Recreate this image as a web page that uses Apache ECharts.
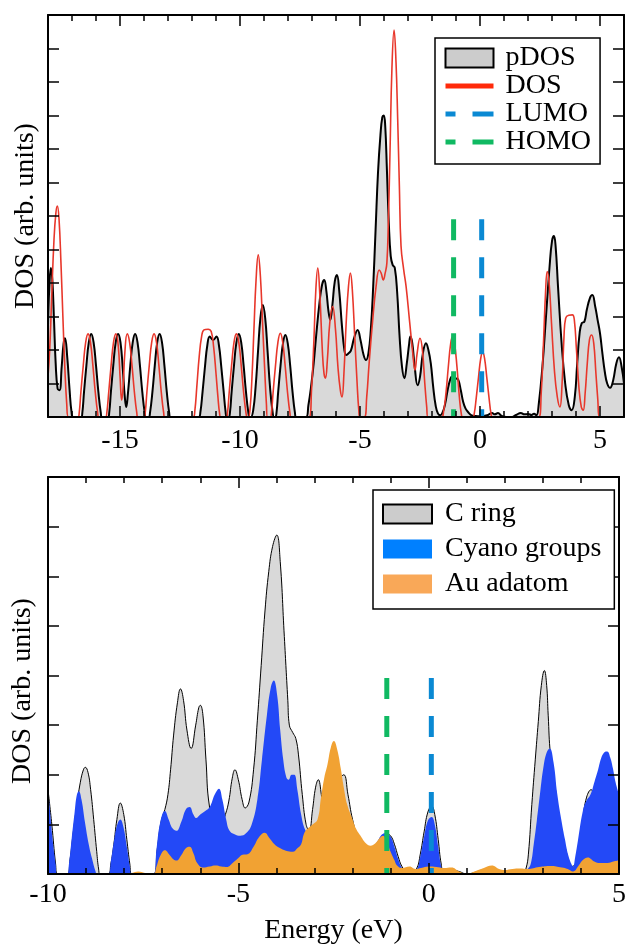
<!DOCTYPE html>
<html><head><meta charset="utf-8">
<script src="https://cdn.jsdelivr.net/npm/echarts@6/dist/echarts.min.js"></script>
<style>html,body{margin:0;padding:0;background:#fff}#c{width:629px;height:946px}</style>
</head><body><div id="c"></div>
<script>
// ---------- DATA ----------
const topMajorTicks = [-15, -10, -5, 0, 5];
const homoEnergy = -1.1;
const lumoEnergy = 0.07;
const markerTopHeight = 5.9;
const markerBottomHeight = 3.95;

// Top panel: pDOS (grey filled, black outline)
const pdosTop = [
[-18.0,2.7],[-17.95,3.8],[-17.88,4.45],[-17.82,4.1],[-17.75,2.9],[-17.68,1.6],[-17.6,0.85],[-17.52,0.8],[-17.43,1.5],[-17.35,2.2],[-17.29,2.35],[-17.2,1.8],[-17.1,0.8],[-17.02,0.15],[-16.95,0],
[-16.62,0],[-16.57,0.12],[-16.5,0.74],[-16.4,1.54],[-16.3,2.23],[-16.2,2.48],[-16.1,2.23],[-16.0,1.54],[-15.9,0.74],[-15.8,0.12],[-15.75,0],
[-15.5,0],[-15.45,0.12],[-15.38,0.74],[-15.28,1.54],[-15.18,2.23],[-15.08,2.48],[-14.98,2.23],[-14.88,1.4],[-14.8,0.6],[-14.74,0.3],[-14.67,0.7],[-14.57,1.54],[-14.47,2.23],[-14.37,2.48],[-14.27,2.23],[-14.17,1.54],[-14.07,0.74],[-13.97,0.12],[-13.92,0],
[-13.8,0],[-13.75,0.12],[-13.65,0.74],[-13.55,1.54],[-13.45,2.23],[-13.35,2.48],[-13.25,2.23],[-13.15,1.54],[-13.05,0.74],[-12.95,0.12],[-12.9,0],
[-11.72,0],[-11.65,0.15],[-11.56,0.75],[-11.46,1.5],[-11.36,2.15],[-11.26,2.4],[-11.12,2.3],[-10.98,2.4],[-10.88,2.15],[-10.78,1.5],[-10.68,0.75],[-10.6,0.15],[-10.55,0],
[-10.47,0],[-10.42,0.12],[-10.35,0.74],[-10.25,1.54],[-10.15,2.23],[-10.05,2.48],[-9.95,2.23],[-9.85,1.54],[-9.75,0.74],[-9.65,0.12],[-9.6,0],
[-9.55,0],[-9.45,0.2],[-9.35,0.9],[-9.25,1.95],[-9.15,2.95],[-9.05,3.34],[-8.95,2.95],[-8.85,1.95],[-8.75,0.9],[-8.65,0.2],[-8.58,0],
[-8.53,0],[-8.48,0.12],[-8.41,0.74],[-8.31,1.54],[-8.21,2.2],[-8.11,2.45],[-8.01,2.2],[-7.91,1.54],[-7.81,0.74],[-7.71,0.12],[-7.66,0],
[-7.25,0],[-7.15,0.35],[-7.04,0.9],[-6.93,1.6],[-6.83,2.4],[-6.69,3.4],[-6.58,3.95],[-6.49,4.09],[-6.4,3.75],[-6.32,3.2],[-6.24,2.9],[-6.15,3.35],[-6.05,4.05],[-5.96,4.24],[-5.87,3.8],[-5.75,2.7],[-5.65,2.0],[-5.58,1.85],[-5.48,1.9],[-5.38,1.98],[-5.25,2.35],[-5.1,2.6],[-4.98,2.3],[-4.85,1.85],[-4.75,1.7],[-4.65,1.9],[-4.55,2.6],[-4.45,3.9],[-4.35,5.6],[-4.25,7.3],[-4.15,8.4],[-4.07,8.95],[-4.01,9.0],[-3.95,8.7],[-3.88,7.4],[-3.8,5.8],[-3.72,4.8],[-3.64,4.54],[-3.55,4.45],[-3.45,3.7],[-3.35,2.4],[-3.25,1.5],[-3.15,1.16],[-3.05,1.6],[-2.95,2.2],[-2.9,2.4],[-2.82,2.2],[-2.72,1.5],[-2.6,0.95],[-2.5,1.2],[-2.38,1.9],[-2.25,2.2],[-2.15,2.0],[-2.05,1.6],[-1.95,0.9],[-1.85,0.35],[-1.75,0.1],[-1.65,0.05],[-1.55,0.15],[-1.45,0.4],[-1.35,0.8],[-1.25,1.1],[-1.18,1.2],[-1.08,1.1],[-0.98,1.15],[-0.9,1.1],[-0.8,0.8],[-0.7,0.45],[-0.6,0.25],[-0.5,0.15],[-0.35,0.05],[-0.2,0.03],[0.0,0.02],[0.3,0.05],[0.5,0.12],[0.62,0.08],[0.75,0.12],[0.9,0.03],[1.1,0],[1.3,0],[1.5,0.06],[1.7,0.12],[1.85,0.08],[2.0,0.09],[2.15,0.06],[2.25,0.1],[2.35,0.05],[2.45,0.4],[2.6,1.5],[2.75,3.0],[2.9,4.5],[3.0,5.25],[3.08,5.4],[3.15,5.1],[3.25,3.9],[3.4,2.2],[3.55,1.0],[3.7,0.35],[3.82,0.2],[3.95,0.6],[4.05,1.6],[4.15,2.5],[4.24,2.8],[4.35,2.85],[4.45,3.2],[4.58,3.55],[4.68,3.64],[4.8,3.3],[4.9,2.9],[5.0,2.5],[5.1,1.9],[5.2,1.35],[5.3,1.0],[5.42,0.87],[5.55,1.1],[5.68,1.6],[5.79,1.78],[5.9,1.5],[6.0,1.0]
];

// Top panel: total DOS (red line)
const dosTop = [
[-18.0,1.2],[-17.93,2.0],[-17.85,3.5],[-17.75,5.3],[-17.67,6.1],[-17.61,6.3],[-17.54,5.9],[-17.46,4.6],[-17.38,3.0],[-17.3,1.5],[-17.22,0.4],[-17.15,0],
[-16.75,0],[-16.7,0.12],[-16.63,0.74],[-16.53,1.54],[-16.43,2.23],[-16.33,2.48],[-16.23,2.23],[-16.13,1.54],[-16.03,0.74],[-15.93,0.12],[-15.88,0],
[-15.6,0],[-15.55,0.12],[-15.47,0.74],[-15.37,1.54],[-15.27,2.23],[-15.17,2.48],[-15.07,2.1],[-14.99,1.1],[-14.93,0.5],[-14.87,0.9],[-14.8,1.9],[-14.7,2.48],[-14.6,2.23],[-14.5,1.54],[-14.4,0.74],[-14.3,0.12],[-14.25,0],
[-14.0,0],[-13.95,0.12],[-13.88,0.74],[-13.78,1.54],[-13.68,2.23],[-13.58,2.48],[-13.48,2.23],[-13.38,1.54],[-13.28,0.74],[-13.18,0.12],[-13.13,0],
[-11.95,0],[-11.88,0.2],[-11.8,0.9],[-11.7,1.8],[-11.6,2.4],[-11.5,2.6],[-11.33,2.62],[-11.2,2.55],[-11.1,2.1],[-11.0,1.3],[-10.92,0.6],[-10.85,0.1],[-10.8,0],
[-10.57,0],[-10.52,0.12],[-10.45,0.74],[-10.35,1.54],[-10.25,2.23],[-10.15,2.48],[-10.05,2.23],[-9.95,1.54],[-9.85,0.74],[-9.75,0.12],[-9.7,0],
[-9.65,0],[-9.58,0.25],[-9.5,1.2],[-9.42,2.6],[-9.33,4.1],[-9.24,4.84],[-9.15,4.2],[-9.06,2.8],[-8.97,1.4],[-8.9,0.4],[-8.85,0],
[-8.74,0],[-8.69,0.12],[-8.62,0.74],[-8.52,1.54],[-8.42,2.23],[-8.32,2.5],[-8.22,2.23],[-8.12,1.54],[-8.02,0.74],[-7.92,0.12],[-7.87,0],
[-7.12,0],[-7.02,0.8],[-6.92,2.3],[-6.84,3.8],[-6.76,4.45],[-6.67,3.6],[-6.57,2.0],[-6.5,1.3],[-6.44,1.16],[-6.36,1.7],[-6.26,2.8],[-6.14,3.3],[-6.02,2.6],[-5.92,1.5],[-5.82,0.8],[-5.75,0.6],[-5.67,1.3],[-5.57,2.9],[-5.48,3.9],[-5.4,4.3],[-5.32,3.8],[-5.22,2.4],[-5.12,1.0],[-5.05,0.2],[-5.0,0],
[-4.82,0],[-4.72,0.6],[-4.62,1.6],[-4.47,2.9],[-4.33,3.9],[-4.2,4.39],[-4.12,4.3],[-4.03,4.09],[-3.95,4.3],[-3.88,4.6],[-3.82,5.8],[-3.75,7.9],[-3.67,10.4],[-3.58,11.55],[-3.5,10.6],[-3.43,8.9],[-3.36,6.9],[-3.29,5.1],[-3.18,4.4],[-3.08,3.9],[-2.94,2.9],[-2.8,1.9],[-2.71,1.4],[-2.62,1.9],[-2.5,2.35],[-2.4,2.0],[-2.3,1.0],[-2.22,0.3],[-2.17,0],
[-1.6,0],[-1.52,0.15],[-1.42,0.7],[-1.32,1.5],[-1.22,2.2],[-1.14,2.4],[-1.06,2.2],[-0.96,1.5],[-0.86,0.6],[-0.78,0.1],[-0.72,0],
[-0.3,0],[-0.24,0.1],[-0.16,0.55],[-0.06,1.2],[0.03,1.75],[0.11,1.95],[0.19,1.75],[0.28,1.2],[0.38,0.55],[0.46,0.1],[0.52,0],
[2.45,0],[2.55,0.7],[2.65,2.3],[2.73,3.7],[2.8,4.34],[2.88,4.0],[2.98,2.8],[3.1,1.4],[3.22,0.6],[3.33,0.3],[3.42,1.0],[3.5,2.4],[3.57,2.95],[3.7,3.04],[3.85,3.05],[3.93,2.9],[4.02,2.0],[4.12,0.9],[4.22,0.3],[4.3,0.2],[4.38,0.7],[4.47,1.6],[4.56,2.3],[4.65,2.45],[4.74,2.2],[4.83,1.3],[4.91,0.5],[4.97,0],[6.0,0]
];

// Bottom panel: C ring (grey, black outline)
const cRing = [
[-10.0,1.7],[-9.9,1.0],[-9.8,0.2],[-9.75,0],[-9.5,0],[-9.42,0.3],[-9.35,0.75],[-9.25,1.35],[-9.15,1.85],[-9.07,2.1],[-9.02,2.15],[-8.95,2.05],[-8.88,1.7],[-8.8,1.1],[-8.72,0.45],[-8.67,0.1],[-8.63,0],
[-8.42,0],[-8.35,0.2],[-8.27,0.6],[-8.19,1.1],[-8.1,1.43],[-8.01,1.2],[-7.93,0.7],[-7.85,0.2],[-7.8,0],
[-7.23,0],[-7.13,0.5],[-7.03,1.05],[-6.93,1.3],[-6.85,1.6],[-6.78,2.1],[-6.7,2.8],[-6.6,3.45],[-6.52,3.73],[-6.44,3.5],[-6.35,2.9],[-6.24,2.53],[-6.12,3.0],[-6.04,3.35],[-6.0,3.4],[-5.93,3.2],[-5.85,2.3],[-5.76,1.37],[-5.6,1.0],[-5.45,1.0],[-5.34,1.2],[-5.25,1.47],[-5.16,1.93],[-5.09,2.1],[-5.0,1.9],[-4.9,1.5],[-4.82,1.33],[-4.72,1.45],[-4.6,2.1],[-4.5,3.1],[-4.4,4.2],[-4.3,5.3],[-4.2,6.1],[-4.1,6.6],[-3.99,6.83],[-3.9,6.3],[-3.8,4.9],[-3.7,3.5],[-3.66,3.0],[-3.57,2.85],[-3.49,2.73],[-3.42,2.4],[-3.32,1.6],[-3.22,1.0],[-3.14,0.87],[-3.05,1.3],[-2.97,1.75],[-2.9,1.9],[-2.82,1.6],[-2.72,1.0],[-2.62,1.2],[-2.5,1.6],[-2.35,1.9],[-2.23,2.0],[-2.12,1.6],[-2.0,1.1],[-1.85,0.7],[-1.7,0.5],[-1.55,0.5],[-1.4,0.55],[-1.25,0.7],[-1.1,0.8],[-1.0,0.77],[-0.9,0.6],[-0.8,0.35],[-0.7,0.15],[-0.57,0.05],[-0.45,0.05],[-0.32,0.1],[-0.22,0.4],[-0.12,0.85],[-0.02,1.25],[0.08,1.37],[0.16,1.2],[0.25,0.7],[0.33,0.2],[0.4,0.05],[0.6,0.08],[0.8,0.05],[1.0,0],[1.3,0.05],[1.66,0.1],[2.0,0.05],[2.3,0.08],[2.5,0.05],[2.56,0.12],[2.62,0.4],[2.71,1.4],[2.8,2.3],[2.88,3.07],[2.96,3.8],[3.04,4.1],[3.1,3.8],[3.14,3.2],[3.2,2.4],[3.3,1.9],[3.45,1.0],[3.6,0.5],[3.75,0.15],[3.85,0.2],[3.95,0.5],[4.05,1.1],[4.15,1.55],[4.27,1.7],[4.35,1.55],[4.5,1.4],[4.7,1.3],[5.0,1.2]
];

// Bottom panel: Cyano groups (blue)
const cyano = [
[-10.0,1.8],[-9.95,1.3],[-9.88,0.7],[-9.8,0.2],[-9.76,0],[-9.5,0],[-9.45,0.2],[-9.38,0.7],[-9.3,1.25],[-9.24,1.6],[-9.19,1.67],[-9.12,1.5],[-9.03,1.05],[-8.93,0.6],[-8.84,0.3],[-8.75,0.05],[-8.71,0],
[-8.42,0],[-8.35,0.25],[-8.27,0.65],[-8.18,1.0],[-8.1,1.1],[-8.02,0.95],[-7.93,0.55],[-7.85,0.15],[-7.8,0],
[-7.23,0],[-7.15,0.5],[-7.05,1.05],[-6.93,1.27],[-6.83,1.1],[-6.73,0.92],[-6.63,0.87],[-6.5,1.05],[-6.38,1.3],[-6.28,1.35],[-6.18,1.2],[-6.11,1.13],[-6.0,1.2],[-5.87,1.27],[-5.75,1.35],[-5.62,1.6],[-5.51,1.72],[-5.42,1.5],[-5.32,1.1],[-5.23,0.87],[-5.1,0.8],[-4.95,0.77],[-4.8,0.82],[-4.65,1.0],[-4.5,1.5],[-4.38,2.3],[-4.25,3.2],[-4.15,3.75],[-4.07,3.9],[-3.98,3.6],[-3.9,2.9],[-3.82,2.3],[-3.74,1.95],[-3.68,1.9],[-3.6,2.0],[-3.53,2.0],[-3.45,1.7],[-3.35,1.2],[-3.25,0.9],[-3.15,0.8],[-2.9,0.6],[-2.5,0.5],[-2.0,0.45],[-1.7,0.45],[-1.5,0.5],[-1.35,0.65],[-1.22,0.8],[-1.12,0.82],[-1.0,0.75],[-0.9,0.55],[-0.8,0.3],[-0.7,0.12],[-0.6,0.05],[-0.45,0.04],[-0.32,0.08],[-0.22,0.35],[-0.12,0.75],[-0.02,1.08],[0.08,1.15],[0.16,1.0],[0.25,0.55],[0.33,0.15],[0.4,0.03],[0.6,0.05],[1.0,0],[2.5,0.05],[2.6,0.1],[2.68,0.2],[2.76,0.6],[2.84,1.07],[2.93,1.65],[3.01,2.13],[3.1,2.45],[3.18,2.53],[3.28,2.25],[3.38,1.6],[3.49,1.07],[3.58,0.7],[3.66,0.4],[3.75,0.2],[3.79,0.15],[3.85,0.35],[3.92,0.67],[4.05,1.27],[4.14,1.47],[4.25,1.6],[4.36,1.87],[4.45,2.1],[4.53,2.33],[4.61,2.45],[4.69,2.47],[4.77,2.35],[4.84,2.13],[4.91,1.85],[5.0,1.6]
];

// Bottom panel: Au adatom (orange)
const auAdatom = [
[-10.0,0],[-7.9,0],[-7.8,0.02],[-7.63,0.05],[-7.45,0.02],[-7.35,0],[-7.23,0],[-7.15,0.15],[-7.05,0.37],[-6.93,0.48],[-6.8,0.38],[-6.7,0.29],[-6.63,0.27],[-6.5,0.38],[-6.38,0.52],[-6.28,0.55],[-6.18,0.42],[-6.08,0.22],[-5.93,0.13],[-5.75,0.15],[-5.6,0.17],[-5.45,0.15],[-5.3,0.14],[-5.15,0.22],[-5.0,0.32],[-4.89,0.39],[-4.76,0.4],[-4.6,0.55],[-4.45,0.75],[-4.31,0.83],[-4.18,0.72],[-4.05,0.6],[-3.92,0.53],[-3.75,0.47],[-3.57,0.45],[-3.45,0.52],[-3.35,0.6],[-3.28,0.8],[-3.2,0.9],[-3.05,1.0],[-2.92,1.1],[-2.83,1.53],[-2.74,1.95],[-2.66,2.2],[-2.57,2.55],[-2.49,2.68],[-2.4,2.5],[-2.31,2.13],[-2.22,1.7],[-2.14,1.4],[-2.0,1.1],[-1.9,0.9],[-1.79,0.77],[-1.65,0.62],[-1.53,0.57],[-1.4,0.62],[-1.28,0.73],[-1.2,0.77],[-1.1,0.65],[-1.0,0.45],[-0.9,0.28],[-0.83,0.17],[-0.7,0.12],[-0.5,0.15],[-0.35,0.1],[-0.2,0.12],[0.0,0.15],[0.2,0.14],[0.4,0.12],[0.6,0.13],[0.8,0.05],[1.0,0],[1.2,0.05],[1.45,0.12],[1.66,0.17],[1.85,0.1],[2.0,0.08],[2.2,0.1],[2.4,0.11],[2.6,0.1],[2.9,0.14],[3.2,0.16],[3.5,0.13],[3.65,0.1],[3.79,0.05],[3.95,0.18],[4.05,0.28],[4.18,0.33],[4.35,0.25],[4.5,0.22],[4.7,0.22],[4.85,0.25],[5.0,0.27]
];

// ---------- CHART ----------
const FONT = '"Liberation Serif","Times New Roman",Times,serif';
const txt = {fontFamily: FONT, fontSize: 28, color: '#000'};
const AX = {lineStyle: {color: '#000', width: 2}, onZero: false};
const GREY = '#d9d9d9', RED = '#e8372b', BLUE_L = '#0a89d3', GREEN_H = '#10b962';
const CYANO = '#2349f7', AU = '#f1a233';
const SM = 0.45;

function xAx(o) {
  return Object.assign({type: 'value', z: 6, splitLine: {show: false}, axisLine: AX,
    axisLabel: {show: false}, axisTick: {show: false}}, o);
}
function yAx(o) {
  return Object.assign({type: 'value', z: 6, splitLine: {show: false}, axisLine: AX,
    axisLabel: {show: false}, axisTick: {show: true, inside: true, length: 11, lineStyle: {color: '#000', width: 1.5}}}, o);
}
const tickMaj = {show: true, inside: true, length: 11, lineStyle: {color: '#000', width: 1.5}};
const tickMin = {show: true, inside: true, length: 6, lineStyle: {color: '#000', width: 1.5}};

const option = {
  animation: false,
  backgroundColor: '#fff',
  grid: [
    {left: 48, right: 5, top: 15, height: 402},
    {left: 48, right: 6, top: 477, height: 403}
  ],
  xAxis: [
    xAx({gridIndex: 0, position: 'bottom', min: -18, max: 6,
      axisTick: Object.assign({customValues: topMajorTicks}, tickMaj),
      axisLabel: Object.assign({show: true, margin: 10, customValues: topMajorTicks}, txt)}),
    xAx({gridIndex: 0, position: 'bottom', min: -18, max: 6, interval: 1, axisLine: {show: false, onZero: false}, axisTick: tickMin}),
    xAx({gridIndex: 0, position: 'top', min: -18, max: 6,
      axisTick: Object.assign({customValues: topMajorTicks}, tickMaj)}),
    xAx({gridIndex: 0, position: 'top', min: -18, max: 6, interval: 1, axisLine: {show: false, onZero: false}, axisTick: tickMin}),
    xAx({gridIndex: 1, position: 'bottom', min: -10, max: 5, interval: 5,
      axisTick: tickMaj, minorTick: {show: true, splitNumber: 5, length: 6, lineStyle: {color: '#000', width: 1.5}},
      axisLabel: Object.assign({show: true, margin: 7}, txt),
      name: 'Energy (eV)', nameLocation: 'middle', nameGap: 43, nameTextStyle: txt}),
    xAx({gridIndex: 1, position: 'top', min: -10, max: 5, interval: 5,
      axisTick: tickMaj, minorTick: {show: true, splitNumber: 5, length: 6, lineStyle: {color: '#000', width: 1.5}}})
  ],
  yAxis: [
    yAx({gridIndex: 0, position: 'left', min: 0, max: 12, interval: 1,
      name: 'DOS (arb. units)', nameLocation: 'middle', nameGap: 8, nameTextStyle: txt}),
    yAx({gridIndex: 0, position: 'right', min: 0, max: 12, interval: 1}),
    yAx({gridIndex: 1, position: 'left', min: 0, max: 8, interval: 1,
      name: 'DOS (arb. units)', nameLocation: 'middle', nameGap: 11,
      nameTextStyle: Object.assign({padding: [0, 31, 0, 0]}, txt)}),
    yAx({gridIndex: 1, position: 'right', min: 0, max: 8, interval: 1})
  ],
  legend: [
    {orient: 'vertical', left: 435, top: 38, padding: [6, 9, 8, 8], itemWidth: 48, itemHeight: 19, itemGap: 0,
      borderColor: '#000', borderWidth: 1.5, backgroundColor: '#fff', selectedMode: false, z: 8,
      textStyle: Object.assign({lineHeight: 27, padding: [0, 0, 0, 7]}, txt),
      data: [
        {name: 'pDOS', icon: 'rect', itemStyle: {color: '#cccccc', borderColor: '#000', borderWidth: 2}},
        {name: 'DOS', itemStyle: {opacity: 0}, lineStyle: {color: '#ff2a0a', width: 5}},
        {name: 'LUMO', itemStyle: {opacity: 0}, lineStyle: {color: BLUE_L, width: 5, type: [21, 17], dashOffset: 11}},
        {name: 'HOMO', itemStyle: {opacity: 0}, lineStyle: {color: GREEN_H, width: 5, type: [21, 17], dashOffset: 11}}
      ]},
    {orient: 'vertical', left: 373, top: 490, padding: [10, 13, 11, 9], itemWidth: 49, itemHeight: 19, itemGap: 7,
      borderColor: '#000', borderWidth: 1.5, backgroundColor: '#fff', selectedMode: false, z: 8,
      textStyle: Object.assign({lineHeight: 28, padding: [0, 0, 0, 8]}, txt),
      data: [
        {name: 'C ring', icon: 'rect', itemStyle: {color: '#cccccc', borderColor: '#000', borderWidth: 2}},
        {name: 'Cyano groups', icon: 'rect', itemStyle: {color: '#0080ff', borderWidth: 0}},
        {name: 'Au adatom', icon: 'rect', itemStyle: {color: '#f9a858', borderWidth: 0}}
      ]}
  ],
  series: [
    {name: 'pDOS', type: 'line', xAxisIndex: 0, yAxisIndex: 0, data: pdosTop, smooth: SM, symbol: 'none', z: 2,
      lineStyle: {color: '#000', width: 2}, itemStyle: {color: '#000'}, areaStyle: {color: GREY, opacity: 1}},
    {name: 'DOS', type: 'line', xAxisIndex: 0, yAxisIndex: 0, data: dosTop, smooth: SM, symbol: 'none', z: 3,
      lineStyle: {color: RED, width: 1.6}, itemStyle: {color: RED}},
    {name: 'LUMO', type: 'line', xAxisIndex: 0, yAxisIndex: 0, symbol: 'none', z: 4,
      data: [[lumoEnergy, markerTopHeight], [lumoEnergy, 0]],
      lineStyle: {color: BLUE_L, width: 5, type: [21, 17]}, itemStyle: {color: BLUE_L}},
    {name: 'HOMO', type: 'line', xAxisIndex: 0, yAxisIndex: 0, symbol: 'none', z: 4,
      data: [[homoEnergy, markerTopHeight], [homoEnergy, 0]],
      lineStyle: {color: GREEN_H, width: 5, type: [21, 17]}, itemStyle: {color: GREEN_H}},
    {name: 'C ring', type: 'line', xAxisIndex: 4, yAxisIndex: 2, data: cRing, smooth: SM, symbol: 'none', z: 2,
      lineStyle: {color: '#000', width: 1}, itemStyle: {color: GREY}, areaStyle: {color: GREY, opacity: 1}},
    {name: 'Cyano groups', type: 'line', xAxisIndex: 4, yAxisIndex: 2, data: cyano, smooth: SM, symbol: 'none', z: 3,
      lineStyle: {width: 0, color: CYANO}, itemStyle: {color: CYANO}, areaStyle: {color: CYANO, opacity: 1}},
    {name: 'Au adatom', type: 'line', xAxisIndex: 4, yAxisIndex: 2, data: auAdatom, smooth: SM, symbol: 'none', z: 3,
      lineStyle: {width: 0, color: AU}, itemStyle: {color: AU}, areaStyle: {color: AU, opacity: 1}},
    {name: 'LUMO (lower)', type: 'line', xAxisIndex: 4, yAxisIndex: 2, symbol: 'none', z: 4,
      data: [[lumoEnergy, markerBottomHeight], [lumoEnergy, 0]],
      lineStyle: {color: BLUE_L, width: 5, type: [21, 17]}},
    {name: 'HOMO (lower)', type: 'line', xAxisIndex: 4, yAxisIndex: 2, symbol: 'none', z: 4,
      data: [[homoEnergy, markerBottomHeight], [homoEnergy, 0]],
      lineStyle: {color: GREEN_H, width: 5, type: [21, 17]}}
  ]
};
const chart = echarts.init(document.getElementById('c'), null, {renderer: 'canvas'});
chart.setOption(option);
</script></body></html>
